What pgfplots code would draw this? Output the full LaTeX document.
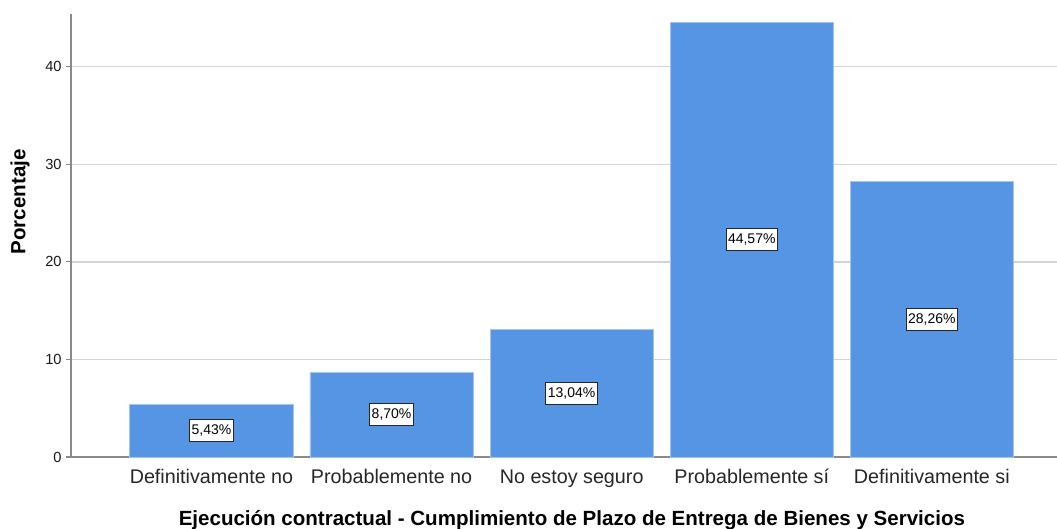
\documentclass[border=0pt]{standalone}
\usepackage{fontspec}
\setmainfont{Liberation Sans}
\usepackage{pgfplots}
\usepackage{pgfplotstable}
\pgfplotsset{compat=1.18}
\definecolor{barblue}{HTML}{5595E3}
\definecolor{baredge}{HTML}{A3C6F0}
\definecolor{gridgray}{HTML}{D3D3D3}
\definecolor{axisgray}{HTML}{8A8A8A}
\pgfplotstableread{
x y
0 5.43
1 8.70
2 13.04
3 44.57
4 28.26
}\datatable
\begin{document}
\begin{tikzpicture}
\begin{axis}[
  scale only axis, width=739.5pt, height=332.25pt,
  xmin=-0.78, xmax=4.695, ymin=0, ymax=45.4,
  axis x line*=bottom, axis y line*=left,
  axis line style={axisgray, line width=1.1pt, -},
  xtick={0,1,2,3,4},
  xticklabels={Definitivamente no, Probablemente no, No estoy seguro, Probablemente sí, Definitivamente si},
  x tick style={draw=none},
  ytick={0,10,20,30,40},
  y tick style={axisgray, line width=0.8pt},
  tick align=outside, major tick length=3.5pt,
  ymajorgrids, grid style={gridgray, line width=1pt},
  yticklabel style={font=\fontsize{11}{13}\selectfont, text=black!90},
  xticklabel style={font=\fontsize{14.8}{17}\selectfont, text=black!85, text height=11pt, text depth=3.2pt, yshift=-1.5pt},
  /pgf/number format/assume math mode=true,
  xlabel={Ejecución contractual - Cumplimiento de Plazo de Entrega de Bienes y Servicios},
  xlabel style={font=\bfseries\fontsize{15.4}{17}\selectfont, at={(axis description cs:0.508,0)}, anchor=center, yshift=-47.5pt},
  ylabel={Porcentaje},
  ylabel style={font=\bfseries\fontsize{15.4}{17}\selectfont, at={(axis description cs:-0.0517,0.576)}, anchor=center, rotate=0},
  clip=false,
]
\addplot[ybar, bar width=0.906, fill=barblue, draw=baredge, line width=0.6pt] table[x=x, y=y] {\datatable};
\addplot[draw=none, mark=none,
  nodes near coords={\pgfmathprintnumber[fixed, fixed zerofill, precision=2, use comma, assume math mode=true]{\pgfplotspointmeta}\%},
  point meta={\thisrow{y}},
  every node near coord/.style={anchor=center, fill=white, draw=black!85, line width=0.7pt, inner xsep=1.5pt, inner ysep=3.8pt, font=\fontsize{10.5}{12}\selectfont, text=black}
] table[x=x, y expr={\thisrow{y}/2}] {\datatable};
\end{axis}
\pgfresetboundingbox
\path (current axis.south west) ++(-53.25pt,-53.25pt) rectangle ([yshift=10.5pt]current axis.north east);
\end{tikzpicture}
\end{document}
